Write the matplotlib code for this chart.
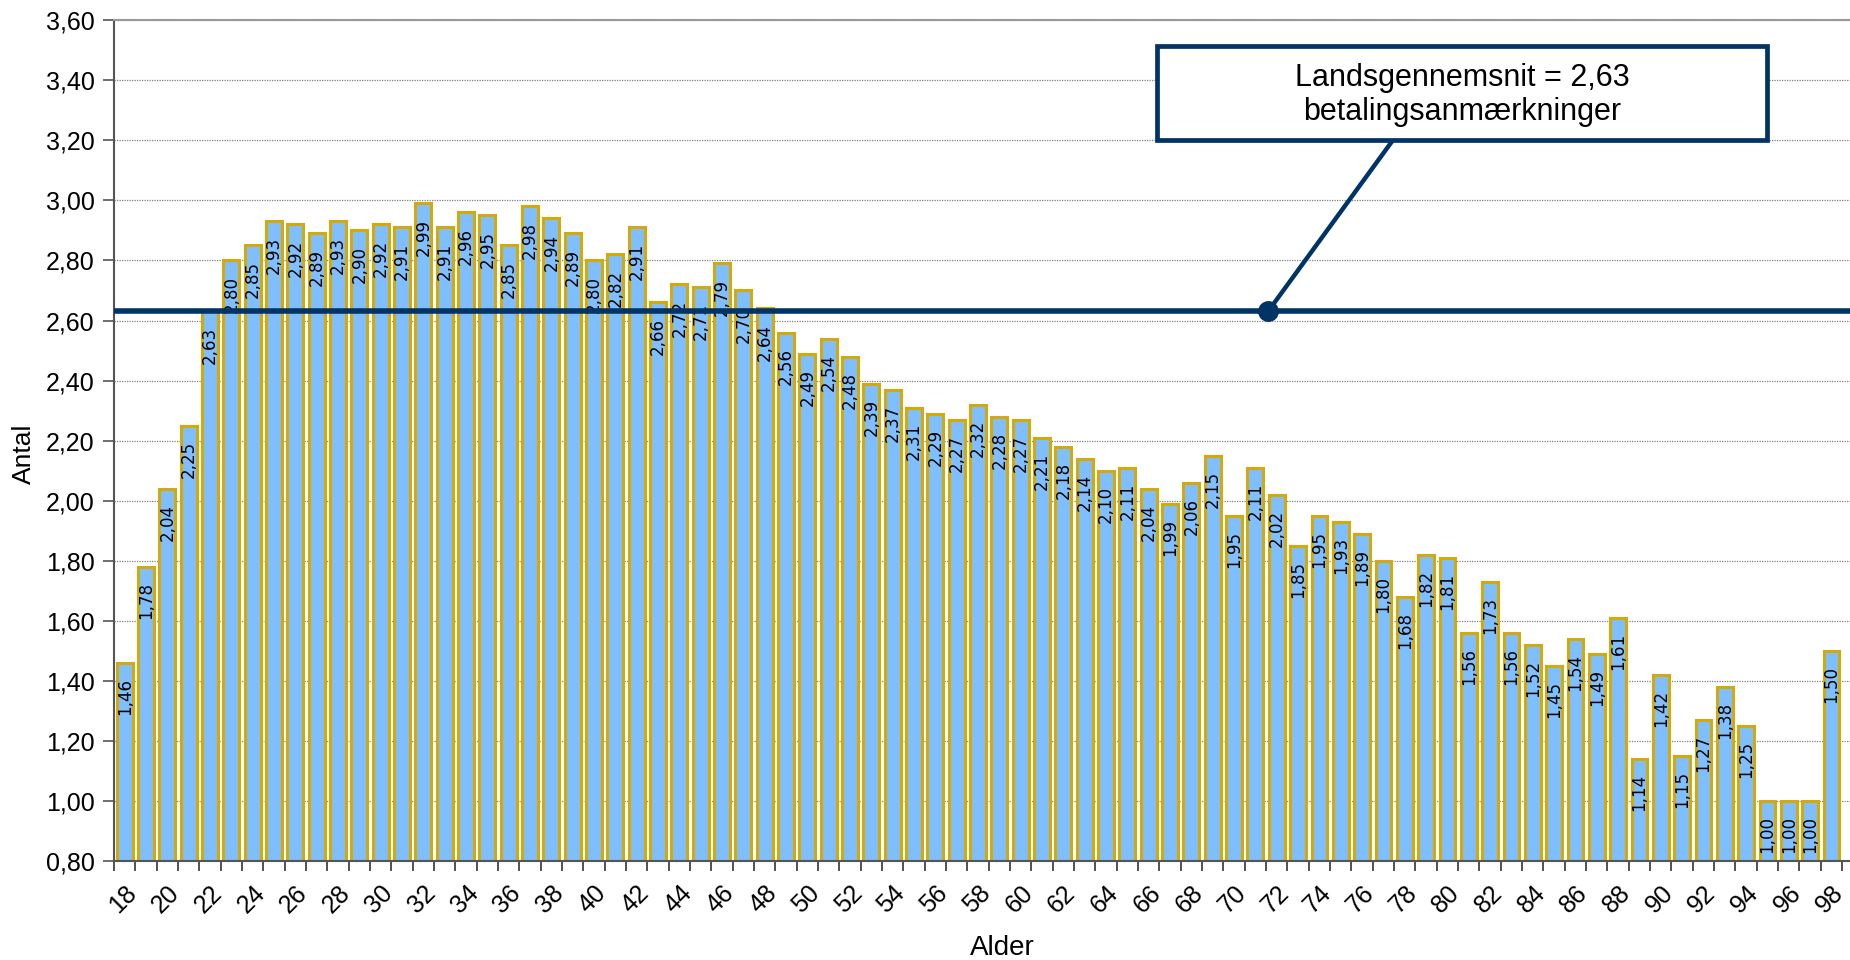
import matplotlib
matplotlib.use('Agg')
import matplotlib.pyplot as plt
from matplotlib.patches import Rectangle
from matplotlib.lines import Line2D
import numpy as np

ages = list(range(18, 99))
values = [1.46, 1.78, 2.04, 2.25, 2.63, 2.80, 2.85, 2.93, 2.92, 2.89,
          2.93, 2.90, 2.92, 2.91, 2.99, 2.91, 2.96, 2.95, 2.85, 2.98,
          2.94, 2.89, 2.80, 2.82, 2.91, 2.66, 2.72, 2.71, 2.79, 2.70,
          2.64, 2.56, 2.49, 2.54, 2.48, 2.39, 2.37, 2.31, 2.29, 2.27,
          2.32, 2.28, 2.27, 2.21, 2.18, 2.14, 2.10, 2.11, 2.04, 1.99,
          2.06, 2.15, 1.95, 2.11, 2.02, 1.85, 1.95, 1.93, 1.89, 1.80,
          1.68, 1.82, 1.81, 1.56, 1.73, 1.56, 1.52, 1.45, 1.54, 1.49,
          1.61, 1.14, 1.42, 1.15, 1.27, 1.38, 1.25, 1.00, 1.00, 1.00,
          1.50]
national_avg = 2.63
avg_text = 'Landsgennemsnit = 2,63\nbetalingsanmærkninger'
y_ticks = [0.80 + 0.20 * i for i in range(15)]

NAVY = '#003366'
SANS = 'Liberation Sans'
W, H = 1850.0, 960.0

fig = plt.figure(figsize=(18.5, 9.6), dpi=100)
ax = fig.add_axes([0.0616, 0.103, 0.9384, 0.876])

x = np.arange(len(ages))
ax.bar(x, [v - 0.80 for v in values], bottom=0.80, width=0.74,
       color='#7fbfff', edgecolor='#d4aa0a', linewidth=2.2, zorder=2)

# value labels, vertical, just under the bar top
for xi, v in zip(x, values):
    ax.annotate('{:.2f}'.format(v).replace('.', ','), (xi, v),
                xytext=(0, -11), textcoords='offset points',
                rotation=90, ha='center', va='top', fontsize=12,
                family='DejaVu Sans', color='black', zorder=3)

ax.set_xlim(-0.5, 80.87)
ax.set_ylim(0.80, 3.60)

# national average line + callout
ax.axhline(national_avg, color=NAVY, linewidth=4, zorder=5)
xd = ax.transData.inverted().transform((1268, H - 316))[0]
ax.plot([xd], [national_avg], 'o', color=NAVY, markersize=14, zorder=6)

fx, fy = fig.transFigure.inverted().transform(
    ax.transData.transform((xd, national_avg)))
fig.add_artist(Line2D([fx, 1393 / W], [fy, 1 - 140 / H], color=NAVY,
                      linewidth=3.2, transform=fig.transFigure, zorder=4))
fig.add_artist(Rectangle((1157 / W, 1 - 140 / H), (1767 - 1157) / W,
                         (140 - 46) / H, transform=fig.transFigure,
                         facecolor='white', edgecolor=NAVY, linewidth=3.4,
                         zorder=5))
fig.text(1462 / W, 1 - 95 / H, avg_text, ha='center', va='center',
         fontsize=22, family=SANS, linespacing=1.2, zorder=6)

# y axis
ax.set_yticks(y_ticks)
ax.set_yticklabels(['{:.2f}'.format(t).replace('.', ',') for t in y_ticks],
                   fontsize=18, family=SANS)
ax.yaxis.grid(True, linestyle=(0, (1, 1)), color='#808080', linewidth=0.9,
              zorder=0)
ax.tick_params(axis='y', length=8, width=1.2, color='#555555', pad=6)

# x axis: ticks at category borders, labels on every second bar
ax.set_xticks(np.arange(-0.5, len(ages), 1.0))
ax.set_xticklabels([])
ax.tick_params(axis='x', which='major', length=7, width=1.2, color='#333333')
ax.set_xticks(x[::2], minor=True)
ax.set_xticklabels([str(a) for a in ages[::2]], minor=True, rotation=45,
                   ha='right', rotation_mode='anchor', fontsize=18, family=SANS)
ax.tick_params(axis='x', which='minor', length=0, pad=14)

ax.spines['right'].set_visible(False)
ax.spines['top'].set_color('#999999')
ax.spines['top'].set_linewidth(1.5)
ax.spines['left'].set_color('#555555')
ax.spines['left'].set_linewidth(1.5)
ax.spines['bottom'].set_color('#555555')
ax.spines['bottom'].set_linewidth(1.5)
ax.set_axisbelow(True)

fig.text(24 / W, 1 - 454 / H, 'Antal', rotation=90, ha='center',
         va='center', fontsize=19, family=SANS)
fig.text(1002 / W, 1 - 948 / H, 'Alder', ha='center', va='center',
         fontsize=20, family=SANS)

fig.savefig('out.png', dpi=100)
